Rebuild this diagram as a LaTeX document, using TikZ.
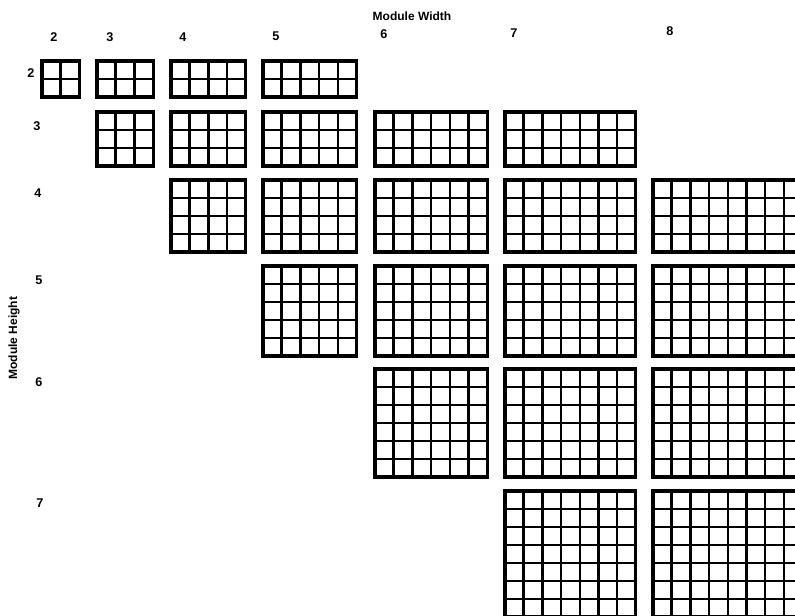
\documentclass[tikz,border=0pt]{standalone}
\usepackage{fontspec}
\setmainfont{Liberation Sans}

\newcommand{\cellw}{18.7}
\newcommand{\cellh}{18}

\tikzset{
  axislabel/.style={font=\bfseries\fontsize{9}{10}\selectfont, inner sep=0pt},
  numlabel/.style={font=\bfseries\fontsize{9.5}{10}\selectfont, inner sep=0pt},
  gridline/.style={line width=1.9pt},
  gridframe/.style={line width=2.3pt, line join=miter}
}

\begin{document}
\begin{tikzpicture}[x=0.75pt, y=-0.75pt]

% Page
\clip (0,0) rectangle (795,616);
\fill[white] (0,0) rectangle (795,616);

% Axis titles
\node[axislabel] (widthlabel) at (412,16) {Module Width};
\node[axislabel, rotate=90] (heightlabel) at (14,338) {Module Height};

% Column numbers (module width)
\foreach \c/\lx/\ly in {2/54/37, 3/110/37, 4/183/37, 5/276/36, 6/384/34, 7/514/33, 8/670/31} {
  \node[numlabel] (col\c) at (\lx,\ly) {\c};
}

% Row numbers (module height)
\foreach \r/\lx/\ly in {2/31/73, 3/37/126, 4/38/193, 5/39/280, 6/39/382, 7/40/503} {
  \node[numlabel] (row\r) at (\lx,\ly) {\r};
}

% Module grids: c columns by r rows
\foreach \c/\gx in {2/42, 3/97, 4/171, 5/263, 6/375, 7/505, 8/653} {
  \foreach \r/\gy in {2/61, 3/112, 4/180, 5/266, 6/369, 7/491} {
    \pgfmathtruncatemacro{\shown}{(\r<=\c) && (\c<=2*\r+1)}
    \ifnum\shown=1
      \pgfmathtruncatemacro{\colsm}{\c-1}
      \pgfmathtruncatemacro{\rowsm}{\r-1}
      \foreach \i in {1,...,\colsm}
        \draw[gridline] ({\gx+\i*\cellw},\gy) -- ++(0,{\r*\cellh});
      \foreach \j in {1,...,\rowsm}
        \draw[gridline] (\gx,{\gy+\j*\cellh}) -- ++({\c*\cellw},0);
      \draw[gridframe] (\gx,\gy) rectangle ++({\c*\cellw},{\r*\cellh});
    \fi
  }
}

\end{tikzpicture}
\end{document}
